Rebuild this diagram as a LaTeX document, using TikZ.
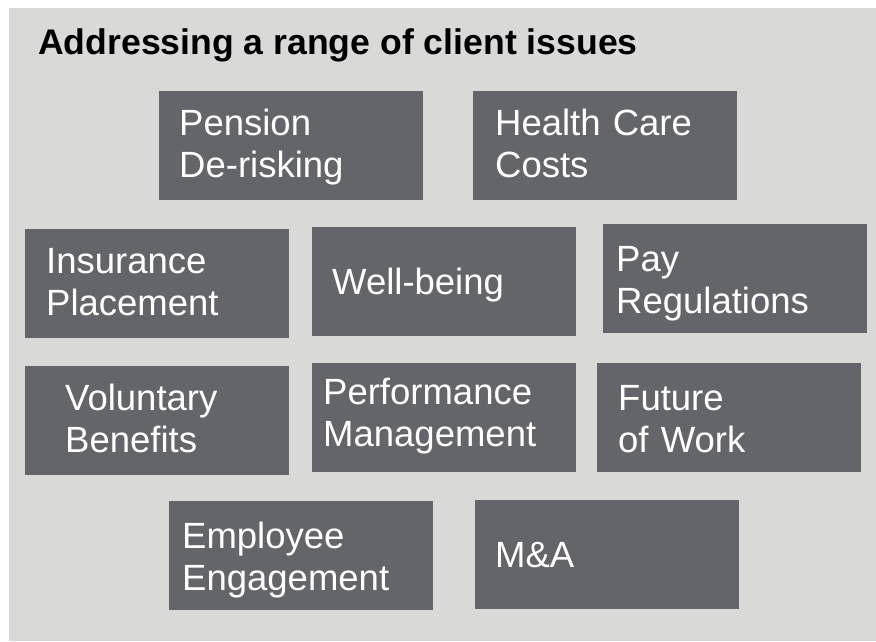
\documentclass[tikz,border=0pt]{standalone}
\usepackage{fontspec}
\setmainfont{Liberation Sans}
\usepackage{tikz}

\definecolor{panelgray}{RGB}{217,218,215}
\definecolor{issuegray}{RGB}{99,101,106}

\tikzset{
  issue/.style={fill=issuegray, text=white, anchor=north west, align=left,
    minimum height=109pt, inner ysep=0pt, text height=27pt, text depth=47pt,
    font=\fontsize{36.5}{42}\selectfont},
  oneline/.style={text height=30pt, text depth=4pt},
}

\begin{document}
\begin{tikzpicture}[x=1pt,y=-1pt]
\useasboundingbox (0,0) rectangle (876,641);
\fill[panelgray] (9,8) rectangle (876,641);

\node[anchor=base west, inner sep=0pt, font=\bfseries\fontsize{35.6}{42}\selectfont] at (38,54) (title) {Addressing a range of client issues};

\node[issue, inner xsep=20pt, text width=224pt] at (159,91) (pension) {Pension\\De-risking};
\node[issue, inner xsep=22pt, text width=220pt] at (473,91) (health) {Health Care\\Costs};

\node[issue, inner xsep=21pt, text width=222pt] at (25,229) (insurance) {Insurance\\Placement};
\node[issue, oneline, inner xsep=20pt, text width=224pt] at (312,227) (wellbeing) {Well-being};
\node[issue, inner xsep=13pt, text width=238pt, text depth=42pt] at (603,224) (pay) {Pay\\Regulations};

\node[issue, inner xsep=40pt, text width=184pt] at (25,366) (voluntary) {Voluntary\\Benefits};
\node[issue, inner xsep=11pt, text width=242pt, text depth=54pt] at (312,363) (performance) {Performance\\Management};
\node[issue, inner xsep=21pt, text width=222pt, text depth=42pt] at (597,363) (future) {Future\\of Work};

\node[issue, inner xsep=13pt, text width=238pt, text depth=42pt] at (169,501) (employee) {Employee\\Engagement};
\node[issue, oneline, inner xsep=20pt, text width=224pt] at (475,500) (ma) {M\&A};
\end{tikzpicture}
\end{document}
